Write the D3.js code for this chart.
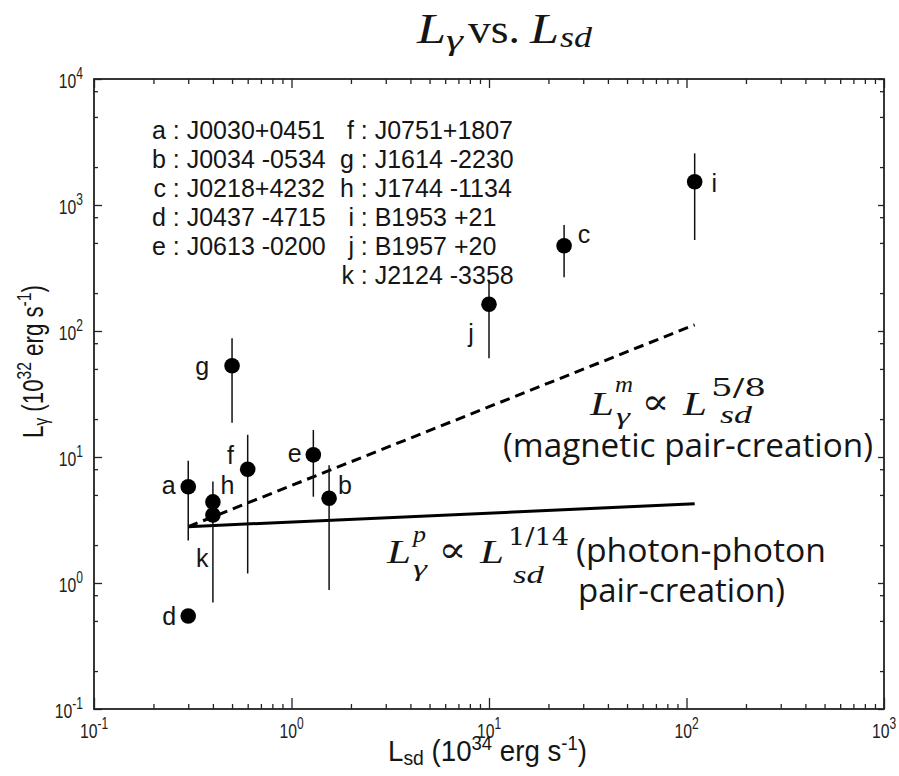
<!DOCTYPE html>
<html>
<head>
<meta charset="utf-8">
<script src="https://cdn.jsdelivr.net/npm/d3@7"></script>
<style>
  body { margin: 0; background: #fff; }
  svg { display: block; }
</style>
</head>
<body>
<svg id="chart" width="899" height="776"></svg>
<script>
// Millisecond pulsars: gamma-ray luminosity vs spin-down luminosity
const labels = ['a', 'b', 'c', 'd', 'e', 'f', 'g', 'h', 'i', 'j', 'k'];
const pulsarNames = ['J0030+0451', 'J0034 -0534', 'J0218+4232', 'J0437 -4715', 'J0613 -0200',
  'J0751+1807', 'J1614 -2230', 'J1744 -1134', 'B1953 +21', 'B1957 +20', 'J2124 -3358'];
// L_sd in 1e34 erg/s, L_gamma in 1e32 erg/s
const spinDown = [0.3, 1.55, 24, 0.3, 1.29, 0.6, 0.5, 0.4, 110, 10, 0.4];
const gammaLum = [5.8, 4.7, 475, 0.547, 10.4, 8.0, 53, 4.4, 1530, 163, 3.47];
const gammaLow = [2.17, 0.88, 267, 0.547, 4.84, 1.19, 18.7, 3.1, 527, 60.7, 0.70];
const gammaHigh = [9.35, 8.6, 693, 0.547, 16.4, 15.0, 87.5, 6.4, 2570, 254, 4.9];

// Model scalings (end points in data units)
const magneticLine = [[0.3, 2.8], [110, 112]];   // L ∝ Lsd^(5/8)
const photonLine = [[0.3, 2.8], [110, 4.25]];    // L ∝ Lsd^(1/14)

const xTickValues = [0.1, 1, 10, 100, 1000];
const xTickExps = ['-1', '0', '1', '2', '3'];
const yTickValues = [0.1, 1, 10, 100, 1000, 10000];
const yTickExps = ['-1', '0', '1', '2', '3', '4'];

// ---- layout ----
const svg = d3.select('#chart');
const plotLeft = 94, plotRight = 884, plotTop = 79, plotBottom = 709;
const x = d3.scaleLog().domain([0.1, 1000]).range([plotLeft, plotRight]);
const y = d3.scaleLog().domain([0.1, 10000]).range([plotBottom, plotTop]);

const ink = '#151515';
const sans = '"Liberation Sans", Arial, sans-serif';
const serif = '"Liberation Serif", "Times New Roman", serif';
const mathDigits = '"DejaVu Serif", serif';
const calibriLike = '"Open Sans", "Noto Sans", sans-serif';

// minor tick positions
const xMinor = [];
[0.1, 1, 10, 100].forEach(d => { for (let m = 2; m <= 9; m++) xMinor.push(d * m); });
const yMinor = [];
[0.1, 1, 10, 100, 1000].forEach(d => { [2, 5, 8].forEach(m => yMinor.push(d * m)); });

function drawTicks(axisGen, tx, ty, values, size) {
  svg.append('g')
    .attr('transform', `translate(${tx},${ty})`)
    .call(axisGen.tickValues(values).tickSize(size).tickFormat(''))
    .call(g => g.select('.domain').remove())
    .selectAll('line').attr('stroke', '#222').attr('stroke-width', 1.3);
}
drawTicks(d3.axisBottom(x), 0, plotBottom, xTickValues, -11);
drawTicks(d3.axisBottom(x), 0, plotBottom, xMinor, -5);
drawTicks(d3.axisTop(x), 0, plotTop, xTickValues, -9);
drawTicks(d3.axisTop(x), 0, plotTop, xMinor, -5);
drawTicks(d3.axisLeft(y), plotLeft, 0, yTickValues, -8);
drawTicks(d3.axisLeft(y), plotLeft, 0, yMinor, -4);
drawTicks(d3.axisRight(y), plotRight, 0, yTickValues, -6);
drawTicks(d3.axisRight(y), plotRight, 0, yMinor, -4);

// frame
svg.append('rect')
  .attr('x', plotLeft).attr('y', plotTop)
  .attr('width', plotRight - plotLeft).attr('height', plotBottom - plotTop)
  .attr('fill', 'none').attr('stroke', '#222').attr('stroke-width', 1.8);

// power-of-ten tick labels (narrow face)
function powerLabel(px, py, exp, anchor) {
  const g = svg.append('g').attr('transform', `translate(${px},${py}) scale(0.75,1)`);
  const t = g.append('text')
    .attr('text-anchor', anchor)
    .attr('font-family', sans).attr('font-size', 21).attr('fill', '#222');
  t.append('tspan').text('10');
  t.append('tspan').attr('font-size', 16).attr('dy', -9).text(exp);
}
xTickValues.forEach((v, i) => powerLabel(x(v), plotBottom + 29, xTickExps[i], 'middle'));
yTickValues.forEach((v, i) => powerLabel(plotLeft - 11, y(v) + 8.5, yTickExps[i], 'end'));

// axis titles, fitted to a target length
function fittedLabel(px, py, rotate, target, build) {
  const g = svg.append('g');
  const t = g.append('text').attr('font-family', sans).attr('font-size', 30).attr('fill', ink);
  build(t);
  const w = t.node().getComputedTextLength();
  g.attr('transform', `translate(${px},${py}) rotate(${rotate}) scale(${target / w},1)`);
}
fittedLabel(388, 761, 0, 199, t => {
  t.append('tspan').text('L');
  t.append('tspan').attr('font-size', 21).attr('dy', 4).text('sd');
  t.append('tspan').attr('dy', -4).text('\u00a0(10');
  t.append('tspan').attr('font-size', 20).attr('dy', -11).text('34');
  t.append('tspan').attr('dy', 11).text('\u00a0erg s');
  t.append('tspan').attr('font-size', 20).attr('dy', -11).text('-1');
  t.append('tspan').attr('dy', 11).text(')');
});
fittedLabel(43, 438, -90, 153, t => {
  t.append('tspan').text('L');
  t.append('tspan').attr('font-size', 21).attr('dy', 5).text('γ');
  t.append('tspan').attr('dy', -5).text('\u00a0(10');
  t.append('tspan').attr('font-size', 21).attr('dy', -12).text('32');
  t.append('tspan').attr('dy', 12).text('\u00a0erg s');
  t.append('tspan').attr('font-size', 21).attr('dy', -12).text('-1');
  t.append('tspan').attr('dy', 12).text(')');
});

// model lines
const line = d3.line().x(d => x(d[0])).y(d => y(d[1]));
svg.append('path').attr('d', line(photonLine))
  .attr('fill', 'none').attr('stroke', '#000').attr('stroke-width', 3);
svg.append('path').attr('d', line(magneticLine))
  .attr('fill', 'none').attr('stroke', '#000').attr('stroke-width', 3)
  .attr('stroke-dasharray', '10,6');

// error bars and points
const idx = d3.range(labels.length);
svg.append('g').selectAll('line')
  .data(idx.filter(i => gammaHigh[i] > gammaLow[i]))
  .join('line')
  .attr('x1', i => x(spinDown[i])).attr('x2', i => x(spinDown[i]))
  .attr('y1', i => y(gammaLow[i])).attr('y2', i => y(gammaHigh[i]))
  .attr('stroke', '#111').attr('stroke-width', 1.5);
svg.append('g').selectAll('circle')
  .data(idx).join('circle')
  .attr('cx', i => x(spinDown[i])).attr('cy', i => y(gammaLum[i]))
  .attr('r', 7.8).attr('fill', '#000');

// point letters: offset from the marker and side
const letterPlacement = {
  a: [-12.7, 7.3, 'end'], b: [9, -4, 'start'], c: [13.7, -2.4, 'start'],
  d: [-12, 9, 'end'], e: [-11.6, 7.2, 'end'], f: [-13.7, -5.7, 'end'],
  g: [-23, 9.3, 'end'], h: [7.7, -7.7, 'start'], i: [16.7, 10, 'start'],
  j: [-15.3, 37.7, 'end'], k: [-4.3, 51.7, 'end']
};
svg.append('g').selectAll('text')
  .data(idx).join('text')
  .attr('x', i => x(spinDown[i]) + letterPlacement[labels[i]][0])
  .attr('y', i => y(gammaLum[i]) + letterPlacement[labels[i]][1])
  .attr('text-anchor', i => letterPlacement[labels[i]][2])
  .attr('font-family', sans).attr('font-size', 25).attr('fill', ink)
  .text(i => labels[i]);

// key of pulsar names, two columns
const key = svg.append('g').attr('font-family', sans).attr('font-size', 25).attr('fill', ink);
idx.forEach(i => {
  const col = i < 5 ? 0 : 1;
  const row = i < 5 ? i : i - 5;
  const letterEnd = col === 0 ? 166 : 354;
  const by = 139.3 + row * 28.9;
  key.append('text').attr('x', letterEnd).attr('y', by).attr('text-anchor', 'end').text(labels[i]);
  key.append('text').attr('x', letterEnd + 6.8).attr('y', by).attr('xml:space', 'preserve')
    .text(': ' + pulsarNames[i]);
});

// math annotations built from placed pieces
function piece(str, px, py, size, opts = {}) {
  const t = svg.append('text')
    .attr('x', px).attr('y', py)
    .attr('font-family', opts.family || serif)
    .attr('font-size', size)
    .attr('font-style', opts.italic ? 'italic' : 'normal')
    .attr('text-anchor', opts.anchor || 'start')
    .attr('fill', ink)
    .text(str);
  if (opts.width) t.attr('textLength', opts.width).attr('lengthAdjust', 'spacingAndGlyphs');
  return t;
}
const propto = '\u221D';

// title
piece('L', 417, 43.3, 42, { italic: true, width: 29 });
piece('γ', 446, 50, 30, { italic: true, width: 17 });
piece('vs.', 468, 43.3, 42, { width: 52 });
piece('L', 530, 43.3, 42, { italic: true, width: 29 });
piece('sd', 560, 46.7, 30, { italic: true, width: 32 });

// magnetic pair-creation scaling
piece('L', 590, 415, 34, { italic: true, width: 24 });
piece('m', 615, 392, 24, { italic: true, width: 18 });
piece('γ', 616, 424, 24, { italic: true, width: 14 });
piece(propto, 641.5, 414, 36, { family: mathDigits, width: 28 });
piece('L', 683, 415, 34, { italic: true, width: 24 });
piece('5/8', 711, 396, 24, { family: mathDigits, width: 55 });
piece('sd', 720, 423, 26, { italic: true, width: 32 });
piece('(magnetic pair-creation)', 503, 457, 32, { family: calibriLike, width: 370 });

// photon-photon pair-creation scaling
piece('L', 387, 563.3, 34, { italic: true, width: 24 });
piece('p', 413, 542, 24, { italic: true, width: 13 });
piece('γ', 413, 576, 24, { italic: true, width: 14 });
piece(propto, 438.5, 562, 36, { family: mathDigits, width: 28 });
piece('L', 480, 563.3, 34, { italic: true, width: 24 });
piece('1/14', 508, 545, 24, { family: mathDigits, width: 61 });
piece('sd', 513, 583, 26, { italic: true, width: 31 });
piece('(photon-photon', 576, 561.7, 32, { family: calibriLike, width: 250 });
piece('pair-creation)', 578, 601.7, 32, { family: calibriLike, width: 207 });
</script>
</body>
</html>
